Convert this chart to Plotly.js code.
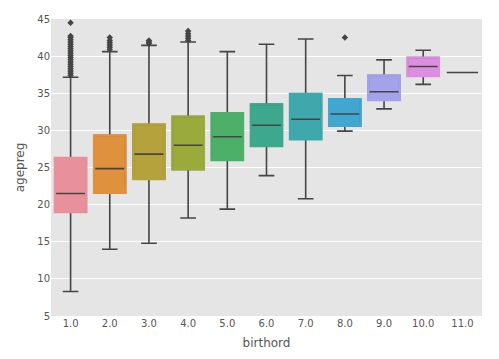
<!DOCTYPE html>
<html>
<head>
<meta charset="utf-8">
<script src="https://cdn.plot.ly/plotly-3.0.1.min.js"></script>
<style>html,body{margin:0;padding:0;background:#fff;}#chart{width:499px;height:359px;}</style>
</head>
<body>
<div id="chart"></div>
<script>
const categories = ["1.0","2.0","3.0","4.0","5.0","6.0","7.0","8.0","9.0","10.0","11.0"];
const lowerWhisker = [8.3, 14.0, 14.8, 18.2, 19.4, 23.9, 20.8, 29.9, 32.9, 36.2, 37.8];
const q1Values     = [19.0, 21.6, 23.45, 24.75, 26.0, 27.9, 28.8, 30.6, 34.1, 37.3, 37.8];
const medianValues = [21.5, 24.85, 26.8, 28.0, 29.15, 30.7, 31.5, 32.2, 35.2, 38.6, 37.8];
const q3Values     = [26.3, 29.3, 30.8, 31.85, 32.3, 33.5, 34.9, 34.2, 37.4, 39.8, 37.8];
const upperWhisker = [37.15, 40.6, 41.45, 41.9, 40.6, 41.6, 42.3, 37.4, 39.5, 40.8, 37.8];
const boxColors = ["#e8909c","#e0913e","#b5a23c","#9aab3c","#4cb069","#3ea88f","#3fa8ad","#41a7d0","#a3a3ec","#dd8ee0","#d98fb0"];
const outlierCats = ["1.0","1.0","1.0","1.0","1.0","1.0","1.0","1.0","1.0","1.0","1.0","1.0","1.0","1.0","1.0","1.0","1.0","1.0","1.0","1.0",
  "2.0","2.0","2.0","2.0","2.0","2.0",
  "3.0","3.0","3.0",
  "4.0","4.0","4.0","4.0","4.0",
  "8.0"];
const outlierVals = [37.4,37.7,38.0,38.3,38.6,38.9,39.2,39.5,39.8,40.1,40.4,40.7,41.0,41.3,41.6,41.9,42.2,42.5,42.7,44.5,
  40.9,41.2,41.5,41.8,42.1,42.5,
  41.7,41.9,42.1,
  42.1,42.4,42.7,43.0,43.4,
  42.5];

const traces = [];
categories.forEach((c, i) => {
  traces.push({
    type: 'box',
    x: [c],
    q1: [q1Values[i]],
    median: [medianValues[i]],
    q3: [q3Values[i]],
    lowerfence: [lowerWhisker[i]],
    upperfence: [upperWhisker[i]],
    width: 0.8,
    fillcolor: boxColors[i],
    line: {color: '#454545', width: 1.6},
    whiskerwidth: 0.5,
    boxpoints: false,
    hoverinfo: 'skip',
    showlegend: false
  });
  if (q3Values[i] > q1Values[i]) {
    traces.push({
      type: 'box',
      x: [c],
      q1: [q1Values[i]],
      median: [q1Values[i]],
      q3: [q3Values[i]],
      lowerfence: [q1Values[i]],
      upperfence: [q3Values[i]],
      width: 0.8,
      fillcolor: 'rgba(0,0,0,0)',
      line: {color: boxColors[i], width: 2.4},
      whiskerwidth: 0,
      boxpoints: false,
      hoverinfo: 'skip',
      showlegend: false
    });
  }
});
traces.push({
  type: 'scatter',
  mode: 'markers',
  x: outlierCats,
  y: outlierVals,
  marker: {symbol: 'diamond', size: 5, color: '#454545'},
  showlegend: false,
  hoverinfo: 'skip'
});

const layout = {
  width: 499, height: 359,
  margin: {l: 51, r: 17, t: 19, b: 43},
  paper_bgcolor: '#ffffff',
  plot_bgcolor: '#e5e5e5',
  boxmode: 'overlay',
  font: {family: 'DejaVu Sans, sans-serif', color: '#555555', size: 10},
  xaxis: {
    type: 'category',
    categoryorder: 'array',
    categoryarray: categories,
    range: [-0.5, 10.5],
    showgrid: false,
    zeroline: false,
    showline: false,
    ticks: '',
    tickfont: {size: 10, color: '#555555'},
    title: {text: 'birthord', font: {size: 12, color: '#555555'}, standoff: 10}
  },
  yaxis: {
    range: [5, 45],
    tickvals: [5,10,15,20,25,30,35,40,45],
    showgrid: true,
    gridcolor: '#ffffff',
    gridwidth: 1,
    zeroline: false,
    showline: false,
    ticks: '',
    tickfont: {size: 10, color: '#555555'},
    title: {text: 'agepreg', font: {size: 12, color: '#555555'}, standoff: 10}
  }
};
Plotly.newPlot('chart', traces, layout, {displayModeBar: false, staticPlot: true});
</script>
</body>
</html>
